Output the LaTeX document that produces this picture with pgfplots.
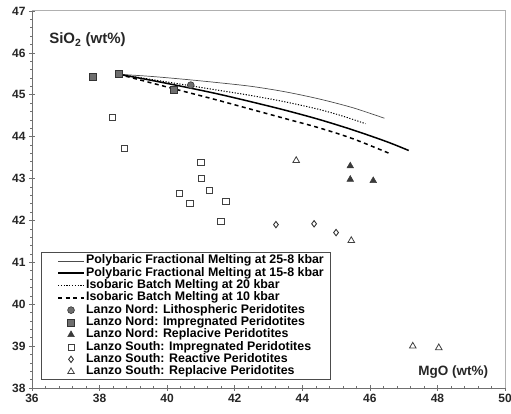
\documentclass[border=0pt]{standalone}
\usepackage{fontspec}
\setmainfont{Liberation Sans}[BoldFont={Liberation Sans Bold}]
\usepackage{pgfplots}
\pgfplotsset{compat=1.18}
\usetikzlibrary{calc}
\definecolor{axgray}{HTML}{707070}
\definecolor{boxgray}{HTML}{B0B0B0}
\definecolor{fillA}{HTML}{6E6E6E}
\definecolor{fillT}{HTML}{3A3A3A}
\begin{document}
\begin{tikzpicture}
\begin{axis}[
  scale only axis, width=473pt, height=377pt,
  xmin=36, xmax=50, ymin=38, ymax=47,
  axis lines=left, axis line style={-, axgray, line width=0.8pt},
  xtick distance=2, ytick distance=1,
  minor x tick num=4, minor y tick num=4,
  tick align=center, major tick length=6pt, minor tick length=3pt,
  tick style={axgray, line width=0.6pt},
  /pgf/number format/assume math mode=true,
  ticklabel style={font=\bfseries\fontsize{12}{13}\selectfont, text=black!85},
  clip=false,
  legend cell align=left,
  legend image code/.code={\path (0pt,0pt); \draw[mark repeat=2,mark phase=2,#1] plot coordinates {(11pt,0pt) (24pt,0pt) (37pt,0pt)};},
  legend style={at={(0.019,0.021)}, anchor=south west, draw=black!70, line width=0.6pt,
    font=\bfseries\fontsize{12.4}{13}\selectfont, inner xsep=5pt, inner ysep=2pt, row sep=0pt,
    nodes={text height=8.6pt, text depth=2.5pt, inner xsep=1.3pt, inner ysep=0.6pt}},
]
% model curves
\addplot[black!70, line width=0.7pt, smooth] coordinates {
 (38.56,45.49) (39.5,45.44) (40.5,45.37) (41.5,45.29) (42.5,45.20) (43.5,45.07) (44.5,44.90) (45.5,44.69) (46.43,44.44)};
\addlegendentry{Polybaric Fractional Melting at 25-8 kbar}
\addplot[black, line width=1.5pt, smooth] coordinates {
 (38.56,45.49) (39.5,45.35) (40.5,45.19) (41.5,45.02) (42.5,44.83) (43.5,44.63) (44.5,44.41) (45.5,44.16) (46.5,43.88) (47.15,43.67)};
\addlegendentry{Polybaric Fractional Melting at 15-8 kbar}
\addplot[black, line width=1pt, dash pattern=on 1.2pt off 1.6pt, smooth] coordinates {
 (38.56,45.49) (39.5,45.37) (40.5,45.24) (41.5,45.11) (42.5,44.98) (43.5,44.83) (44.5,44.65) (45.2,44.49) (45.87,44.31)};
\addlegendentry{Isobaric Batch Melting at 20 kbar}
\addplot[black, line width=1.5pt, dash pattern=on 4pt off 3.5pt, smooth] coordinates {
 (38.56,45.49) (39.5,45.29) (40.5,45.08) (41.5,44.87) (42.5,44.65) (43.5,44.43) (44.5,44.21) (45.5,43.95) (46.64,43.58)};
\addlegendentry{Isobaric Batch Melting at 10 kbar}
% data
\addplot[only marks, mark=*, mark size=3.4pt, mark options={fill=fillA, draw=black!80, line width=0.6pt}] coordinates {(40.70,45.23)};
\addlegendentry{Lanzo Nord: Lithospheric Peridotites}
\addplot[only marks, mark=square*, mark size=3.5pt, mark options={fill=fillA, draw=black!80, line width=0.6pt}] coordinates {(37.80,45.42) (38.56,45.49) (40.19,45.11)};
\addlegendentry{Lanzo Nord: Impregnated Peridotites}
\addplot[only marks, mark=triangle*, mark size=3.8pt, mark options={fill=fillT, draw=fillT, line width=0.5pt}] coordinates {(45.42,43.30) (45.42,42.98) (46.10,42.95)};
\addlegendentry{Lanzo Nord: Replacive Peridotites}
\addplot[only marks, mark=square, mark size=3.1pt, mark options={draw=black!75, line width=0.7pt}] coordinates {
 (38.39,44.46) (38.74,43.72) (41.00,43.39) (41.02,43.00) (40.35,42.64) (40.67,42.40) (41.26,42.71) (41.74,42.45) (41.59,41.98)};
\addlegendentry{Lanzo South: Impregnated Peridotites}
\addplot[only marks, mark=diamond, mark size=3.2pt, mark options={draw=black!80, line width=0.9pt}] coordinates {(43.22,41.90) (44.35,41.92) (45.00,41.71)};
\addlegendentry{Lanzo South: Reactive Peridotites}
\addplot[only marks, mark=triangle, mark size=3.8pt, mark options={draw=black!75, line width=0.8pt}] coordinates {(43.82,43.43) (45.45,41.52) (47.27,39.00) (48.04,38.96)};
\addlegendentry{Lanzo South: Replacive Peridotites}
% frame top/right
\draw[boxgray, line width=1pt] (rel axis cs:0,1) -- (rel axis cs:1,1) -- (rel axis cs:1,0);
\node[anchor=base west, font=\bfseries\fontsize{15}{17}\selectfont, text=black!85] at (rel axis cs:0.029,0.913) {SiO\textsubscript{2} (wt\%)};
\node[anchor=base east, font=\bfseries\fontsize{13.5}{15}\selectfont, text=black!85] at (rel axis cs:0.972,0.032) {MgO (wt\%)};
\end{axis}
\pgfresetboundingbox
\path ($(current axis.south west)+(-32pt,-26pt)$) rectangle ($(current axis.north east)+(6pt,11pt)$);
\end{tikzpicture}
\end{document}
